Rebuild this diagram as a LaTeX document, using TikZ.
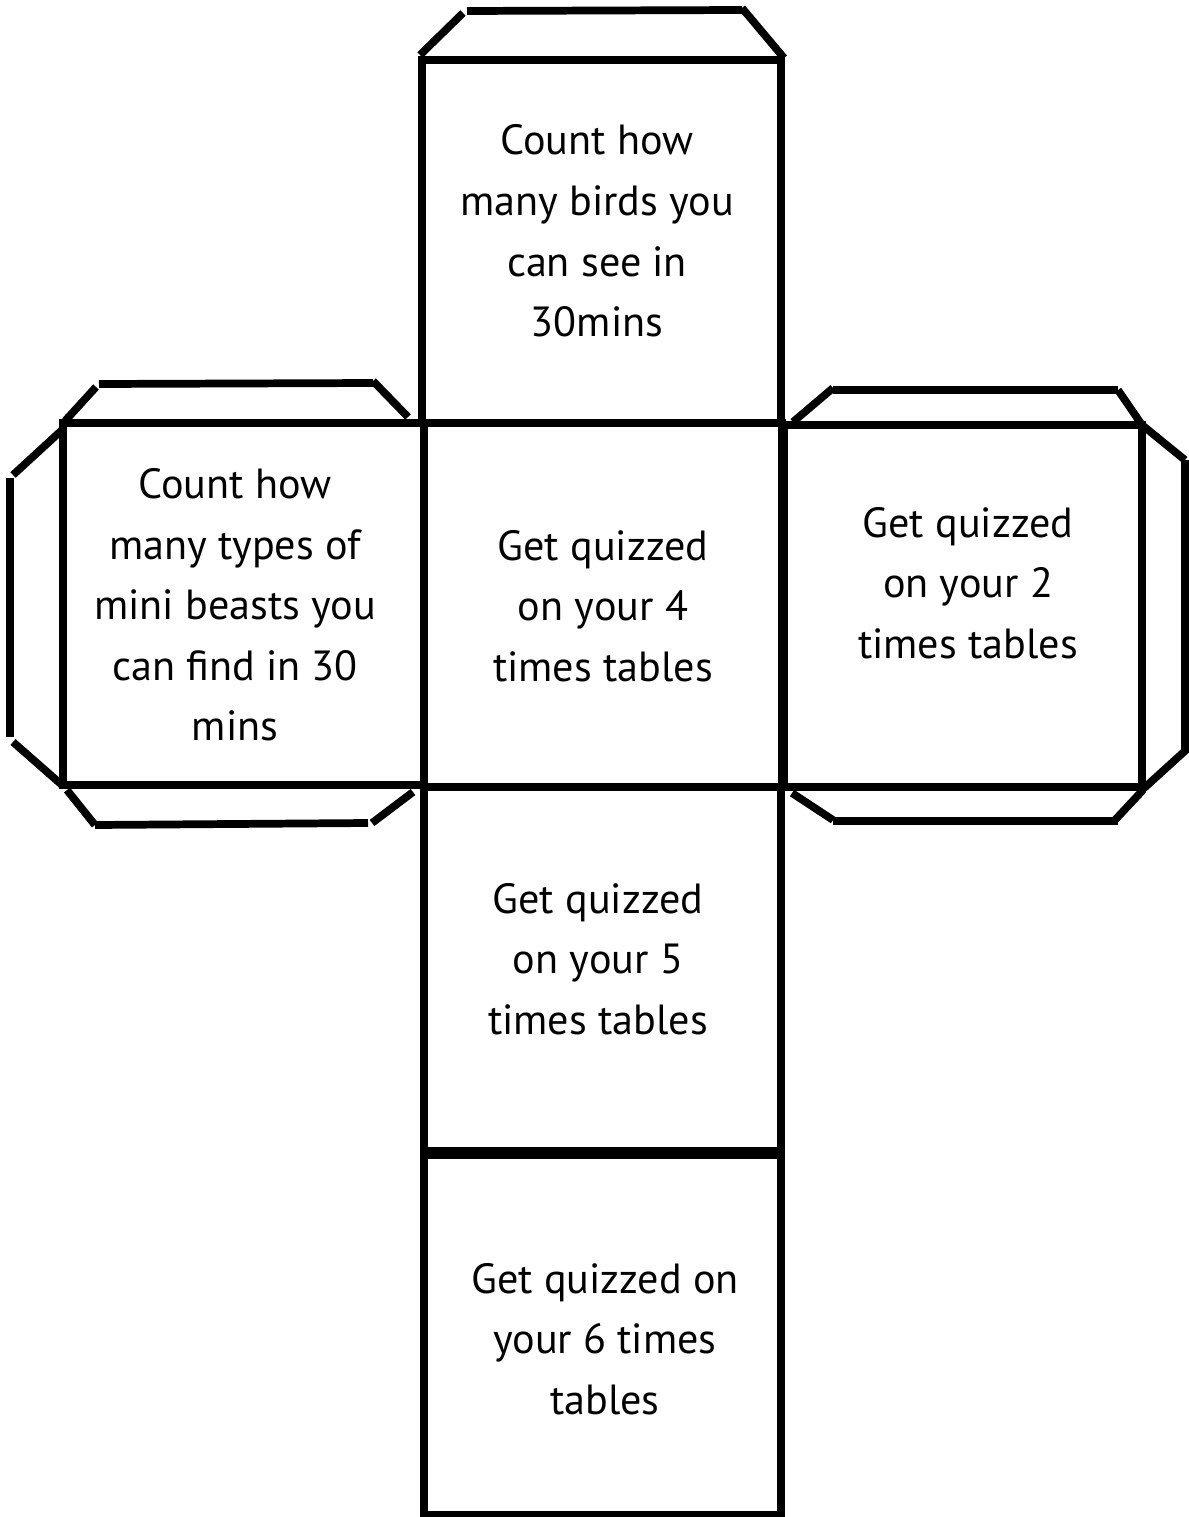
\documentclass[tikz,border=0pt]{standalone}
\usepackage{fontspec}
\setmainfont{PT Sans}
\begin{document}
\begin{tikzpicture}[x=0.02cm,y=-0.02cm,
  edge/.style={line width=4.4pt,black,line cap=butt},
  flap/.style={line width=4.4pt,black,line cap=butt},
  facetext/.style={align=center,font=\fontsize{24}{34.5}\selectfont,inner sep=0pt}]
\useasboundingbox (0,0) rectangle (1188,1517);
% faces
\draw[edge] (422,60) rectangle (781,423);
\draw[edge] (424,423) rectangle (782,787);
\draw[edge] (63,423) rectangle (424,785);
\draw[edge] (784,425) rectangle (1142,787);
\draw[edge] (424,787) rectangle (781,1153);
\draw[edge] (424,1153) -- (424,1520);
\draw[edge] (781,1153) -- (781,1520);
\draw[edge] (424,1515) -- (781,1515);
\draw[line width=6.5pt] (424,1153) -- (781,1153);
% top flap
\draw[flap] (420,55) -- (463,13);
\draw[flap] (467,11) -- (742,10);
\draw[flap] (742,8) -- (784,58);
% left face flaps
\draw[flap] (65,421) -- (96,387);
\draw[flap] (99,384) -- (373,383);
\draw[flap] (373,381) -- (408,417);
\draw[flap] (62,430) -- (13,475);
\draw[flap] (10,478) -- (10,737);
\draw[flap] (13,742) -- (62,785);
\draw[flap] (67,790) -- (95,825);
\draw[flap] (95,825) -- (368,823);
\draw[flap] (372,823) -- (413,792);
% right face flaps
\draw[flap] (793,422) -- (833,388);
\draw[flap] (833,390) -- (1118,390);
\draw[flap] (1118,390) -- (1142,425);
\draw[flap] (1142,425) -- (1185,460);
\draw[flap] (1185,460) -- (1185,753);
\draw[flap] (1186,750) -- (1142,790);
\draw[flap] (792,793) -- (833,820);
\draw[flap] (833,821) -- (1118,821);
\draw[flap] (1115,820) -- (1143,790);
% texts
\node[facetext] (ftop) at (597,231) {Count how\\many birds you\\can see in\\30mins};
\node[facetext] (fleft) at (235,605) {Count how\\many types of\\mini beasts you\\can find in 30\\mins};
\node[facetext] (fcenter) at (603,606) {Get quizzed\\on your 4\\times tables};
\node[facetext] (fright) at (968,583) {Get quizzed\\on your 2\\times tables};
\node[facetext] (ffive) at (598,959) {Get quizzed\\on your 5\\times tables};
\node[facetext] (fsix) at (605,1339) {Get quizzed on\\your 6 times\\tables};
\end{tikzpicture}
\end{document}
